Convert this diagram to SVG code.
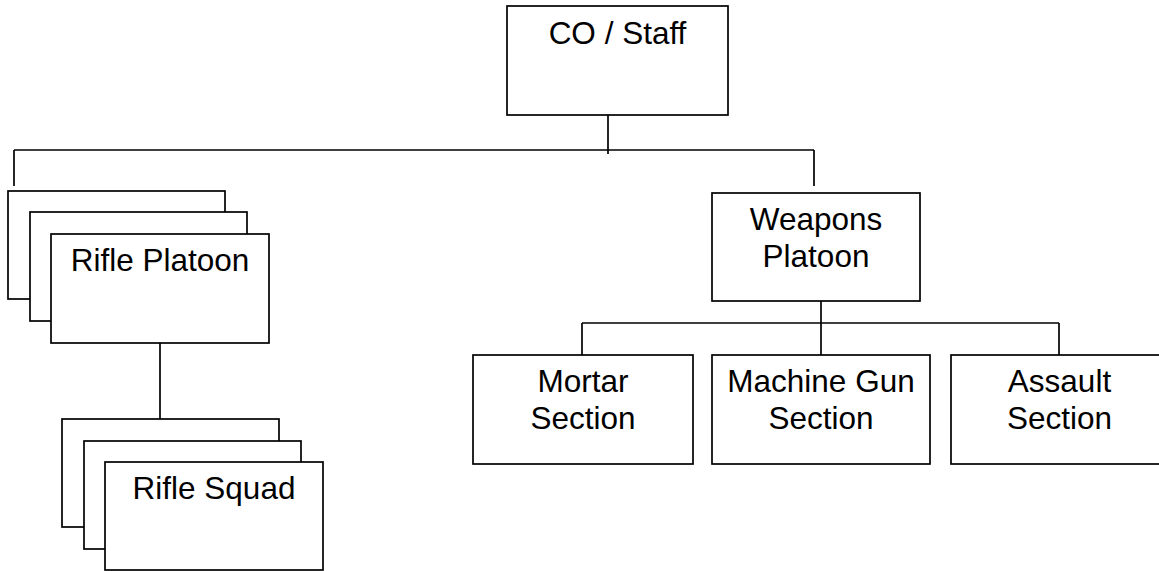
<svg xmlns="http://www.w3.org/2000/svg" width="1159" height="571" viewBox="0 0 1159 571">
<style>
.box{fill:#fff;stroke:#000;stroke-width:1.7}
.ln{fill:none;stroke:#000;stroke-width:1.7}
text{font-family:"Liberation Sans",Arial,sans-serif;font-size:31.5px;fill:#000;text-anchor:middle}
</style>
<rect width="1159" height="571" fill="#fff"/>
<g id="connectors">
<line class="ln" x1="608" y1="115" x2="608" y2="154"/>
<line class="ln" x1="14" y1="150" x2="814" y2="150"/>
<line class="ln" x1="14" y1="150" x2="14" y2="186"/>
<line class="ln" x1="814" y1="150" x2="814" y2="186"/>
<line class="ln" x1="160" y1="343" x2="160" y2="419"/>
<line class="ln" x1="821" y1="301" x2="821" y2="355"/>
<line class="ln" x1="582" y1="323" x2="1059" y2="323"/>
<line class="ln" x1="582" y1="323" x2="582" y2="355"/>
<line class="ln" x1="1059" y1="323" x2="1059" y2="355"/>
</g>
<g id="co-staff">
<rect class="box" x="507" y="6" width="221" height="109"/>
<text x="617.5" y="44">CO / Staff</text>
</g>
<g id="rifle-platoon">
<rect class="box" x="8" y="191" width="217" height="108"/>
<rect class="box" x="30" y="212" width="217" height="109"/>
<rect class="box" x="51" y="234" width="218" height="109"/>
<text x="160" y="271">Rifle Platoon</text>
</g>
<g id="rifle-squad">
<rect class="box" x="62" y="419" width="217" height="108"/>
<rect class="box" x="84" y="441" width="217" height="108"/>
<rect class="box" x="105" y="462" width="218" height="108"/>
<text x="214" y="499">Rifle Squad</text>
</g>
<g id="weapons-platoon">
<rect class="box" x="712" y="193" width="208" height="108"/>
<text x="816" y="230">Weapons</text>
<text x="816" y="267">Platoon</text>
</g>
<g id="mortar-section">
<rect class="box" x="473" y="355" width="220" height="109"/>
<text x="583" y="392">Mortar</text>
<text x="583" y="429">Section</text>
</g>
<g id="machine-gun-section">
<rect class="box" x="712" y="355" width="218" height="109"/>
<text x="821" y="392">Machine Gun</text>
<text x="821" y="429">Section</text>
</g>
<g id="assault-section">
<rect class="box" x="951" y="355" width="218" height="109"/>
<text x="1059.5" y="392">Assault</text>
<text x="1059.5" y="429">Section</text>
</g>
</svg>
